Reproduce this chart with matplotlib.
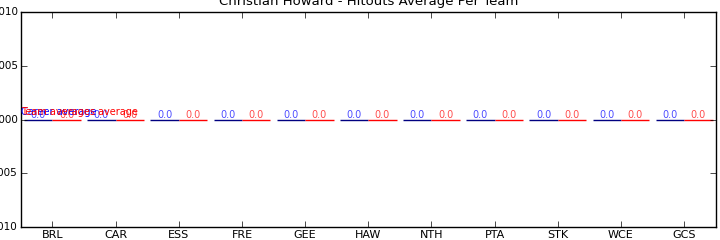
import matplotlib
matplotlib.use("Agg")
import matplotlib.pyplot as plt
import numpy as np

# Données : moyennes de hitouts par équipe (toutes nulles)
teams = ['BRL', 'CAR', 'ESS', 'FRE', 'GEE', 'HAW', 'NTH', 'PTA', 'STK', 'WCE', 'GCS']
career_avg = [0.0, 0.0, 0.0, 0.0, 0.0, 0.0, 0.0, 0.0, 0.0, 0.0, 0.0]
team_avg = [0.0, 0.0, 0.0, 0.0, 0.0, 0.0, 0.0, 0.0, 0.0, 0.0, 0.0]

plt.style.use('classic')
fig = plt.figure(figsize=(7.2, 2.4), dpi=100, facecolor='white')
ax = fig.add_axes([0.029, 0.054, 0.965, 0.896])

x = np.arange(len(teams))
w = 0.45
b1 = ax.bar(x + 0.05, career_avg, w, align='edge', color='b', edgecolor='navy')
b2 = ax.bar(x + 0.5, team_avg, w, align='edge', color='r', edgecolor='r')

for rect, v in zip(b1, career_avg):
    ax.text(rect.get_x() + rect.get_width() / 2, v, '%.1f' % v,
            ha='center', va='bottom', color='b', fontsize=7, alpha=0.7)
for rect, v in zip(b2, team_avg):
    ax.text(rect.get_x() + rect.get_width() / 2, v, '%.1f' % v,
            ha='center', va='bottom', color='r', fontsize=7, alpha=0.7)

ax.text(0, 0.00002, 'Career average', color='b', fontsize=7, va='bottom')
ax.text(0, 0.00002, 'Team averages average', color='r', fontsize=7, va='bottom')

ax.set_xlim(0, len(teams))
ax.set_ylim(-0.001, 0.001)
ax.set_yticks([-0.001, -0.0005, 0, 0.0005, 0.001])
ax.set_xticks(x + 0.5)
ax.set_xticklabels(teams)
ax.tick_params(axis='x', labelsize=8, pad=2)
ax.tick_params(axis='y', labelsize=7.5, pad=2)
ax.set_title('Christian Howard - Hitouts Average Per Team', fontsize=9.5)

fig.savefig('out.png', dpi=100, facecolor='white')
